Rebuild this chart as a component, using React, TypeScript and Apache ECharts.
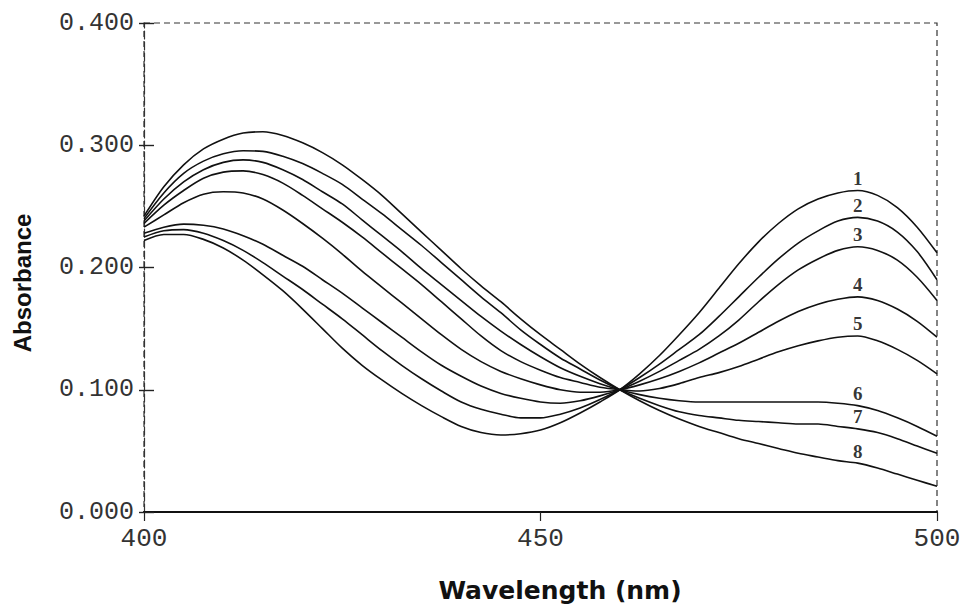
import React, { useEffect, useRef } from "react";
import * as echarts from "echarts";

const wavelengths = [
  400, 402.5, 405, 407.5, 410, 412.5, 415, 417.5, 420, 422.5, 425, 427.5, 430, 432.5, 435, 437.5, 440, 442.5, 445, 447.5,
  450, 452.5, 455, 457.5, 460, 462.5, 465, 467.5, 470, 472.5, 475, 477.5, 480, 482.5, 485, 487.5, 490, 492.5, 495, 497.5, 500,
];

const curve1 = [
  0.222, 0.227, 0.227, 0.223, 0.216, 0.206, 0.194, 0.181, 0.166, 0.150, 0.134, 0.120, 0.108, 0.097, 0.087, 0.078, 0.070, 0.065, 0.063, 0.064,
  0.067, 0.073, 0.081, 0.090, 0.100, 0.113, 0.128, 0.145, 0.163, 0.183, 0.203, 0.221, 0.236, 0.248, 0.256, 0.261, 0.263, 0.259, 0.249, 0.233, 0.212,
];
const curve2 = [
  0.225, 0.230, 0.231, 0.228, 0.222, 0.214, 0.204, 0.193, 0.182, 0.170, 0.158, 0.145, 0.132, 0.120, 0.109, 0.099, 0.090, 0.084, 0.080, 0.077,
  0.077, 0.080, 0.085, 0.092, 0.100, 0.110, 0.121, 0.133, 0.145, 0.160, 0.176, 0.192, 0.207, 0.220, 0.230, 0.238, 0.241, 0.238, 0.229, 0.213, 0.190,
];
const curve3 = [
  0.228, 0.233, 0.2355, 0.2345, 0.2315, 0.226, 0.219, 0.210, 0.201, 0.190, 0.179, 0.167, 0.155, 0.143, 0.131, 0.120, 0.111, 0.103, 0.097, 0.093,
  0.090, 0.089, 0.091, 0.095, 0.100, 0.107, 0.115, 0.124, 0.133, 0.144, 0.157, 0.172, 0.186, 0.198, 0.207, 0.214, 0.217, 0.214, 0.206, 0.192, 0.173,
];
const curve4 = [
  0.233, 0.243, 0.253, 0.260, 0.262, 0.261, 0.256, 0.247, 0.236, 0.224, 0.211, 0.197, 0.184, 0.171, 0.158, 0.145, 0.133, 0.123, 0.115, 0.109,
  0.104, 0.100, 0.098, 0.098, 0.100, 0.104, 0.109, 0.115, 0.122, 0.130, 0.138, 0.147, 0.156, 0.164, 0.170, 0.174, 0.176, 0.173, 0.166, 0.156, 0.143,
];
const curve5 = [
  0.236, 0.251, 0.263, 0.273, 0.278, 0.279, 0.276, 0.269, 0.259, 0.248, 0.237, 0.225, 0.212, 0.199, 0.186, 0.172, 0.158, 0.144, 0.132, 0.123,
  0.116, 0.110, 0.106, 0.102, 0.100, 0.099, 0.101, 0.105, 0.110, 0.114, 0.119, 0.125, 0.131, 0.136, 0.140, 0.143, 0.144, 0.140, 0.133, 0.124, 0.113,
];
const curve6 = [
  0.238, 0.256, 0.270, 0.280, 0.286, 0.288, 0.286, 0.280, 0.272, 0.262, 0.252, 0.239, 0.226, 0.213, 0.199, 0.186, 0.173, 0.160, 0.148, 0.137,
  0.127, 0.118, 0.111, 0.105, 0.100, 0.096, 0.093, 0.091, 0.090, 0.090, 0.090, 0.090, 0.090, 0.090, 0.090, 0.089, 0.087, 0.083, 0.077, 0.070, 0.062,
];
const curve7 = [
  0.240, 0.261, 0.277, 0.287, 0.293, 0.2955, 0.295, 0.291, 0.285, 0.277, 0.268, 0.256, 0.244, 0.231, 0.218, 0.204, 0.190, 0.176, 0.163, 0.149,
  0.137, 0.126, 0.117, 0.108, 0.100, 0.093, 0.087, 0.082, 0.079, 0.077, 0.075, 0.074, 0.073, 0.072, 0.072, 0.070, 0.068, 0.065, 0.060, 0.054, 0.048,
];
const curve8 = [
  0.242, 0.266, 0.284, 0.297, 0.305, 0.310, 0.311, 0.308, 0.302, 0.294, 0.284, 0.272, 0.259, 0.244, 0.229, 0.214, 0.199, 0.185, 0.172, 0.158,
  0.145, 0.133, 0.121, 0.110, 0.100, 0.091, 0.083, 0.076, 0.070, 0.065, 0.060, 0.056, 0.052, 0.048, 0.045, 0.042, 0.040, 0.036, 0.031, 0.026, 0.021,
];

const curves = [curve1, curve2, curve3, curve4, curve5, curve6, curve7, curve8];
const curveLabels = ["1", "2", "3", "4", "5", "6", "7", "8"];
const labelWavelength = 490;

const xMin = 400;
const xMax = 500;
const xStep = 50;
const yMin = 0;
const yMax = 0.4;
const yStep = 0.1;

const xTitle = "Wavelength (nm)";
const yTitle = "Absorbance";

export default function App() {
  const ref = useRef<HTMLDivElement>(null);

  useEffect(() => {
    if (!ref.current) return;
    const chart = echarts.init(ref.current, null, { renderer: "svg" });

    const labelIdx = wavelengths.indexOf(labelWavelength);

    const lineSeries = curves.map((c, k) => ({
      name: "curve " + curveLabels[k],
      type: "line",
      data: wavelengths.map((w, i) => [w, c[i]]),
      smooth: 0.3,
      showSymbol: false,
      symbol: "none",
      lineStyle: { color: "#111", width: 1.6 },
      z: 3,
    }));

    const labelSeries = {
      name: "labels",
      type: "scatter",
      symbolSize: 1,
      itemStyle: { color: "rgba(0,0,0,0)" },
      data: curves.map((c, k) => ({
        value: [labelWavelength, c[labelIdx]],
        label: { formatter: curveLabels[k] },
      })),
      label: {
        show: true,
        position: "top",
        distance: 2,
        fontFamily: "Liberation Serif",
        fontWeight: "bold",
        fontSize: 19,
        color: "#000",
      },
      z: 4,
    };

    const option: any = {
      animation: false,
      backgroundColor: "#fff",
      grid: {
        left: 144,
        right: 29,
        top: 23,
        bottom: 96,
        show: true,
        borderColor: "#333",
        borderWidth: 1.2,
        borderType: [6, 4],
      },
      xAxis: [
        {
          type: "value",
          min: xMin,
          max: xMax,
          interval: xStep,
          position: "bottom",
          axisLine: { show: true, lineStyle: { color: "#111", width: 1.6 } },
          axisTick: { show: true, length: 9, lineStyle: { color: "#222", width: 1.2 } },
          axisLabel: {
            fontFamily: "Liberation Mono",
            fontSize: 26,
            color: "#333",
            margin: 14,
          },
          splitLine: { show: false },
        },
        {
          type: "value",
          min: xMin,
          max: xMax,
          interval: xStep,
          position: "top",
          axisLine: { show: true, lineStyle: { color: "#111", width: 1.8 } },
          axisTick: { show: false },
          axisLabel: { show: false },
          splitLine: { show: false },
        },
      ],
      yAxis: [
        {
          type: "value",
          min: yMin,
          max: yMax,
          interval: yStep,
          position: "left",
          axisLine: { show: true, lineStyle: { color: "#333", width: 1.2, type: [8, 3] } },
          axisTick: { show: true, length: 5, lineStyle: { color: "#222", width: 1.4 } },
          axisLabel: {
            formatter: (v: number) => v.toFixed(3),
            fontFamily: "Liberation Mono",
            fontSize: 25,
            color: "#333",
            margin: 10,
          },
          splitLine: { show: false },
        },
        {
          type: "value",
          min: yMin,
          max: yMax,
          interval: yStep,
          position: "right",
          offset: -793,
          axisLine: { show: false },
          axisTick: { show: true, length: 10, lineStyle: { color: "#222", width: 1.4 } },
          axisLabel: { show: false },
          splitLine: { show: false },
        },
      ],
      graphic: [
        {
          type: "text",
          x: 22,
          y: 283,
          rotation: Math.PI / 2,
          style: {
            text: yTitle,
            font: 'bold 24px "Liberation Sans"',
            align: "center",
            verticalAlign: "middle",
            fill: "#111",
          },
        },
        {
          type: "text",
          x: 560,
          y: 590,
          style: {
            text: xTitle,
            font: 'bold 25px "DejaVu Sans"',
            align: "center",
            verticalAlign: "middle",
            fill: "#111",
          },
        },
      ],
      series: [...lineSeries, labelSeries],
    };

    chart.setOption(option);
    return () => chart.dispose();
  }, []);

  return (
    <div
      ref={ref}
      style={{ position: "fixed", left: 0, top: 0, width: 966, height: 608, background: "#fff" }}
    />
  );
}
